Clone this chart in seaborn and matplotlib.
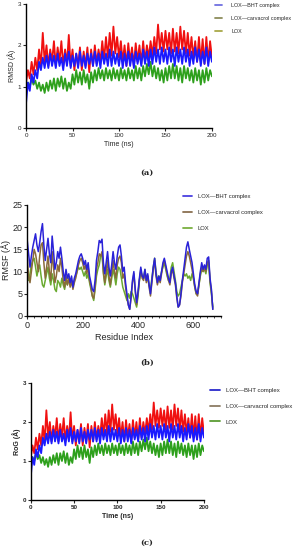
import matplotlib
matplotlib.use('Agg')
import matplotlib.pyplot as plt
from matplotlib.lines import Line2D
from matplotlib.ticker import MultipleLocator
import seaborn as sns
import numpy as np

sns.set_style('ticks')
plt.rcParams['font.family'] = ['Liberation Sans', 'DejaVu Sans']

# time axis for RMSD / RoG (ns, every 2 ns)
time_ns = np.arange(0, 201, 2)

rmsd_bht = [0.6, 1.1, 0.9, 1.3, 1.1, 1.4, 1.2, 1.6, 1.4, 1.7,
            1.45, 1.75, 1.45, 1.8, 1.5, 1.75, 1.45, 1.8, 1.5, 1.7,
            1.4, 1.8, 1.5, 1.85, 1.45, 1.75, 1.5, 1.8, 1.45, 1.85,
            1.5, 1.75, 1.45, 1.8, 1.55, 1.8, 1.5, 1.85, 1.5, 1.8,
            1.45, 1.85, 1.55, 1.8, 1.5, 1.9, 1.5, 1.85, 1.55, 1.8,
            1.5, 1.85, 1.45, 1.8, 1.5, 1.85, 1.5, 1.8, 1.45, 1.85,
            1.55, 1.8, 1.5, 1.9, 1.55, 1.85, 1.5, 1.9, 1.55, 1.95,
            1.6, 1.9, 1.55, 1.95, 1.6, 1.9, 1.55, 1.95, 1.6, 1.9,
            1.5, 1.95, 1.6, 1.9, 1.55, 1.95, 1.6, 1.9, 1.5, 1.85,
            1.55, 1.95, 1.6, 1.9, 1.5, 1.85, 1.55, 1.95, 1.5, 1.85,
            1.6]
rmsd_carv = [1.1, 1.4, 1.2, 1.6, 1.3, 1.7, 1.4, 1.9, 1.5, 2.3,
             1.6, 2.0, 1.5, 1.9, 1.6, 2.1, 1.5, 1.95, 1.6, 2.1,
             1.5, 1.9, 1.55, 2.25, 1.5, 1.9, 1.4, 1.8, 1.5, 1.95,
             1.4, 1.85, 1.5, 1.95, 1.35, 1.9, 1.5, 2.0, 1.55, 1.9,
             1.6, 2.1, 1.65, 2.2, 1.7, 2.3, 1.75, 2.45, 1.8, 2.2,
             1.7, 2.1, 1.6, 2.0, 1.5, 2.05, 1.6, 1.95, 1.5, 2.05,
             1.6, 2.0, 1.55, 2.1, 1.6, 2.0, 1.7, 2.1, 1.75, 2.2,
             1.8, 2.5, 1.9, 2.3, 1.85, 2.35, 1.9, 2.3, 1.8, 2.4,
             1.85, 2.3, 1.8, 2.45, 1.9, 2.35, 1.8, 2.3, 1.75, 2.2,
             1.7, 2.1, 1.6, 2.2, 1.6, 2.15, 1.55, 2.2, 1.6, 2.1,
             1.7]
rmsd_lox = [0.9, 1.1, 1.0, 1.2, 1.05, 1.15, 0.95, 1.1, 0.9, 1.05,
            0.85, 1.1, 0.9, 1.15, 0.95, 1.2, 0.9, 1.2, 1.0, 1.25,
            0.95, 1.2, 0.9, 1.1, 0.95, 1.3, 1.05, 1.4, 1.1, 1.35,
            1.05, 1.4, 1.1, 1.3, 0.95, 1.35, 1.1, 1.4, 1.15, 1.45,
            1.2, 1.4, 1.15, 1.45, 1.2, 1.4, 1.15, 1.45, 1.2, 1.4,
            1.15, 1.45, 1.2, 1.4, 1.15, 1.45, 1.2, 1.4, 1.15, 1.5,
            1.2, 1.45, 1.15, 1.5, 1.25, 1.55, 1.3, 1.6, 1.25, 1.5,
            1.2, 1.45, 1.15, 1.4, 1.1, 1.45, 1.15, 1.5, 1.2, 1.55,
            1.2, 1.5, 1.15, 1.45, 1.1, 1.5, 1.2, 1.45, 1.15, 1.4,
            1.1, 1.45, 1.15, 1.4, 1.05, 1.4, 1.1, 1.45, 1.15, 1.4,
            1.25]

# RoG panel shows the same traces
rog_bht = rmsd_bht
rog_carv = rmsd_carv
rog_lox = rmsd_lox

# RMSF per residue (every 5 residues)
residue = np.arange(0, 671, 5)
rmsf_bht = [17.0, 14.0, 11.0, 13.5, 15.5, 17.0, 18.5, 16.0, 14.5, 16.5,
            19.0, 20.8, 16.0, 12.5, 15.0, 17.5, 14.0, 12.0, 18.0, 14.5,
            10.5, 12.0, 14.5, 13.0, 15.5, 13.0, 10.0, 8.0, 10.5, 8.5,
            9.5, 7.5, 9.0, 6.5, 8.5, 9.5, 11.0, 12.5, 13.5, 14.0,
            13.0, 11.5, 12.5, 10.5, 12.0, 9.0, 7.5, 6.0, 5.5, 8.0,
            12.5, 14.5, 17.0, 16.5, 17.3, 12.0, 9.5, 12.0, 14.5, 11.0,
            9.0, 11.5, 14.5, 12.0, 10.5, 13.5, 15.5, 16.0, 13.5, 10.0,
            11.0, 7.5, 5.0, 2.5, 1.5, 4.5, 8.0, 10.0, 6.0, 3.0,
            5.5, 8.5, 11.0, 9.0, 8.5, 10.5, 8.0, 9.5, 7.0, 5.0,
            8.0, 11.0, 13.0, 9.5, 7.5, 9.0, 8.0, 10.0, 12.0, 13.0,
            11.5, 10.0, 8.5, 7.5, 10.0, 11.0, 9.0, 7.5, 4.5, 2.0,
            2.5, 5.0, 8.0, 10.5, 13.0, 15.5, 16.7, 15.0, 13.5, 12.0,
            9.5, 7.0, 5.5, 5.0, 7.5, 10.0, 12.0, 10.5, 11.5, 10.5,
            13.0, 13.3, 8.5, 6.0, 1.5]
rmsf_carv = [13.0, 9.0, 7.5, 10.0, 12.5, 15.0, 14.0, 12.0, 10.0, 13.5,
             16.0, 16.5, 12.0, 8.5, 11.0, 13.5, 10.0, 8.0, 14.5, 11.0,
             7.5, 9.0, 11.5, 10.0, 13.0, 11.0, 8.0, 6.5, 9.0, 7.0,
             8.5, 6.5, 8.0, 6.0, 7.5, 8.5, 10.0, 11.5, 12.5, 13.0,
             12.0, 10.5, 11.5, 9.5, 11.0, 8.0, 6.5, 4.5, 4.0, 6.5,
             10.5, 12.0, 14.0, 13.5, 14.5, 10.0, 7.5, 10.0, 12.5, 9.0,
             7.0, 9.5, 12.5, 10.0, 8.5, 11.5, 13.0, 13.5, 12.0, 8.5,
             9.5, 6.5, 4.0, 2.5, 1.5, 4.0, 7.5, 9.5, 5.5, 2.5,
             5.0, 8.0, 10.5, 8.5, 8.0, 10.0, 7.5, 9.0, 6.5, 4.5,
             7.5, 10.5, 12.5, 9.0, 7.0, 8.5, 7.5, 9.5, 11.5, 12.5,
             11.0, 9.5, 8.0, 7.0, 9.5, 10.5, 8.5, 7.0, 4.0, 2.0,
             2.5, 4.5, 7.5, 9.5, 11.5, 13.5, 14.5, 13.5, 12.0, 10.5,
             8.5, 6.5, 5.0, 4.5, 7.0, 9.5, 11.0, 10.0, 11.0, 10.0,
             12.0, 12.5, 8.0, 5.5, 1.5]
rmsf_lox = [10.0, 8.0, 9.5, 11.5, 12.5, 13.0, 11.0, 9.0, 10.5, 11.5,
            9.0, 7.0, 6.5, 8.0, 9.5, 11.0, 8.5, 7.0, 9.5, 8.0,
            6.0, 5.5, 8.0, 7.5, 6.5, 8.5, 7.0, 6.0, 8.0, 7.0,
            8.5, 7.0, 7.5, 6.5, 8.0, 9.0, 10.0, 11.0, 10.5, 11.0,
            10.0, 9.0, 10.0, 8.5, 9.5, 7.5, 6.0, 4.5, 3.5, 6.0,
            9.0, 10.5, 11.5, 13.5, 14.0, 9.5, 7.0, 9.0, 10.5, 8.0,
            6.5, 8.5, 10.5, 9.0, 7.0, 9.5, 11.0, 10.5, 8.5, 6.5,
            5.5, 4.5, 3.5, 5.0, 4.0, 5.5, 5.0, 4.0, 3.0, 2.0,
            4.5, 8.0, 10.0, 9.0, 8.5, 10.5, 8.0, 9.0, 7.0, 6.0,
            8.5, 11.0, 13.0, 10.0, 8.0, 9.0, 8.5, 10.0, 11.0, 12.0,
            10.5, 9.0, 8.0, 8.5, 11.0, 12.0, 10.0, 8.0, 5.5, 4.5,
            5.0, 6.5, 8.0, 9.5, 9.0, 9.5, 8.5, 9.0, 8.0, 9.5,
            8.5, 6.5, 5.0, 5.0, 7.0, 9.0, 10.5, 10.0, 10.5, 9.5,
            11.5, 12.0, 7.5, 5.0, 2.0]

series_names = ['LOX\u2014BHT complex', 'LOX\u2014carvacrol complex', 'LOX']

W, H = 296, 550
fig = plt.figure(figsize=(2.96, 5.5), dpi=100)
ax_a = fig.add_axes([0.088, 0.767, 0.628, 0.226])
ax_b = fig.add_axes([0.092, 0.4255, 0.655, 0.2018])
ax_c = fig.add_axes([0.104, 0.0909, 0.585, 0.2127])


def style_axis(ax, fs, bold=False):
    sns.despine(ax=ax)
    for s in ['left', 'bottom']:
        ax.spines[s].set_linewidth(1.0)
        ax.spines[s].set_color('black')
    ax.tick_params(axis='both', labelsize=fs, length=2.5, width=0.8, pad=1)
    if bold:
        for t in ax.get_xticklabels() + ax.get_yticklabels():
            t.set_fontweight('bold')


def time_panel(ax, bht, carv, lox, ylabel, fs, bold):
    sns.lineplot(x=time_ns, y=carv, ax=ax, color='#f01010', lw=1.3,
                 sort=False, estimator=None)
    sns.lineplot(x=time_ns, y=lox, ax=ax, color='#2ea01c', lw=1.3,
                 sort=False, estimator=None)
    sns.lineplot(x=time_ns, y=bht, ax=ax, color='#1a1aff', lw=1.3,
                 sort=False, estimator=None)
    ax.set_xlim(0, 200)
    ax.set_ylim(0, 3)
    ax.set_xticks([0, 50, 100, 150, 200])
    ax.set_yticks([0, 1, 2, 3])
    w = 'bold' if bold else 'normal'
    ax.set_xlabel('Time (ns)', fontsize=fs, fontweight=w, labelpad=2)
    ax.set_ylabel(ylabel, fontsize=fs, fontweight=w, labelpad=1)
    style_axis(ax, fs - 0.5, bold)


time_panel(ax_a, rmsd_bht, rmsd_carv, rmsd_lox, 'RMSD (\u00c5)', 5, False)
time_panel(ax_c, rog_bht, rog_carv, rog_lox, 'RoG (\u00c5)', 5, True)

# RMSF panel
sns.lineplot(x=residue, y=rmsf_lox, ax=ax_b, color='#6aaa30', lw=1.1,
             sort=False, estimator=None)
sns.lineplot(x=residue, y=rmsf_carv, ax=ax_b, color='#8a6a3a', lw=1.1,
             sort=False, estimator=None)
sns.lineplot(x=residue, y=rmsf_bht, ax=ax_b, color='#2a22d8', lw=1.1,
             sort=False, estimator=None)
ax_b.set_xlim(0, 700)
ax_b.set_ylim(0, 25)
ax_b.set_xticks([0, 200, 400, 600])
ax_b.set_yticks([0, 5, 10, 15, 20, 25])
ax_b.xaxis.set_minor_locator(MultipleLocator(25))
ax_b.tick_params(axis='x', which='minor', length=1.5, width=0.6)
ax_b.set_xlabel('Residue Index', fontsize=6.5, labelpad=2)
ax_b.set_ylabel('RMSF (\u00c5)', fontsize=6.5, labelpad=1)
style_axis(ax_b, 6.5)

# legends: (axis, colours, line start px, top px, font size, line len px, gap px, row spacing)
legend_specs = [
    (ax_a, ['#7070e0', '#8c8c5a', '#a8a848'], 215, 2.5, 3.9, 7, 9, 1.55),
    (ax_b, ['#4a40e0', '#8a7050', '#7ab040'], 183, 193.5, 4.2, 9, 6, 1.9),
    (ax_c, ['#2a2acc', '#8c7c64', '#5c9c34'], 210, 387.5, 4.3, 10, 6, 1.8),
]
for ax, cols, x0, y0, fs, hl, gap, sp in legend_specs:
    px = fs * 100 / 72
    handles = [Line2D([0], [0], color=c, lw=1.3) for c in cols]
    fig.legend(handles, series_names, loc='upper left',
               bbox_to_anchor=(x0 / W, 1 - y0 / H), bbox_transform=fig.transFigure,
               frameon=False, fontsize=fs, handlelength=hl / px,
               handletextpad=gap / px, labelspacing=sp, borderaxespad=0,
               borderpad=0)

# panel labels
for y, lab in [(0.685, '(a)'), (0.34, '(b)'), (0.0127, '(c)')]:
    fig.text(0.497, y, lab, ha='center', va='center', fontsize=6,
             fontweight='bold', family='DejaVu Serif')

fig.savefig('out.png', dpi=100)
